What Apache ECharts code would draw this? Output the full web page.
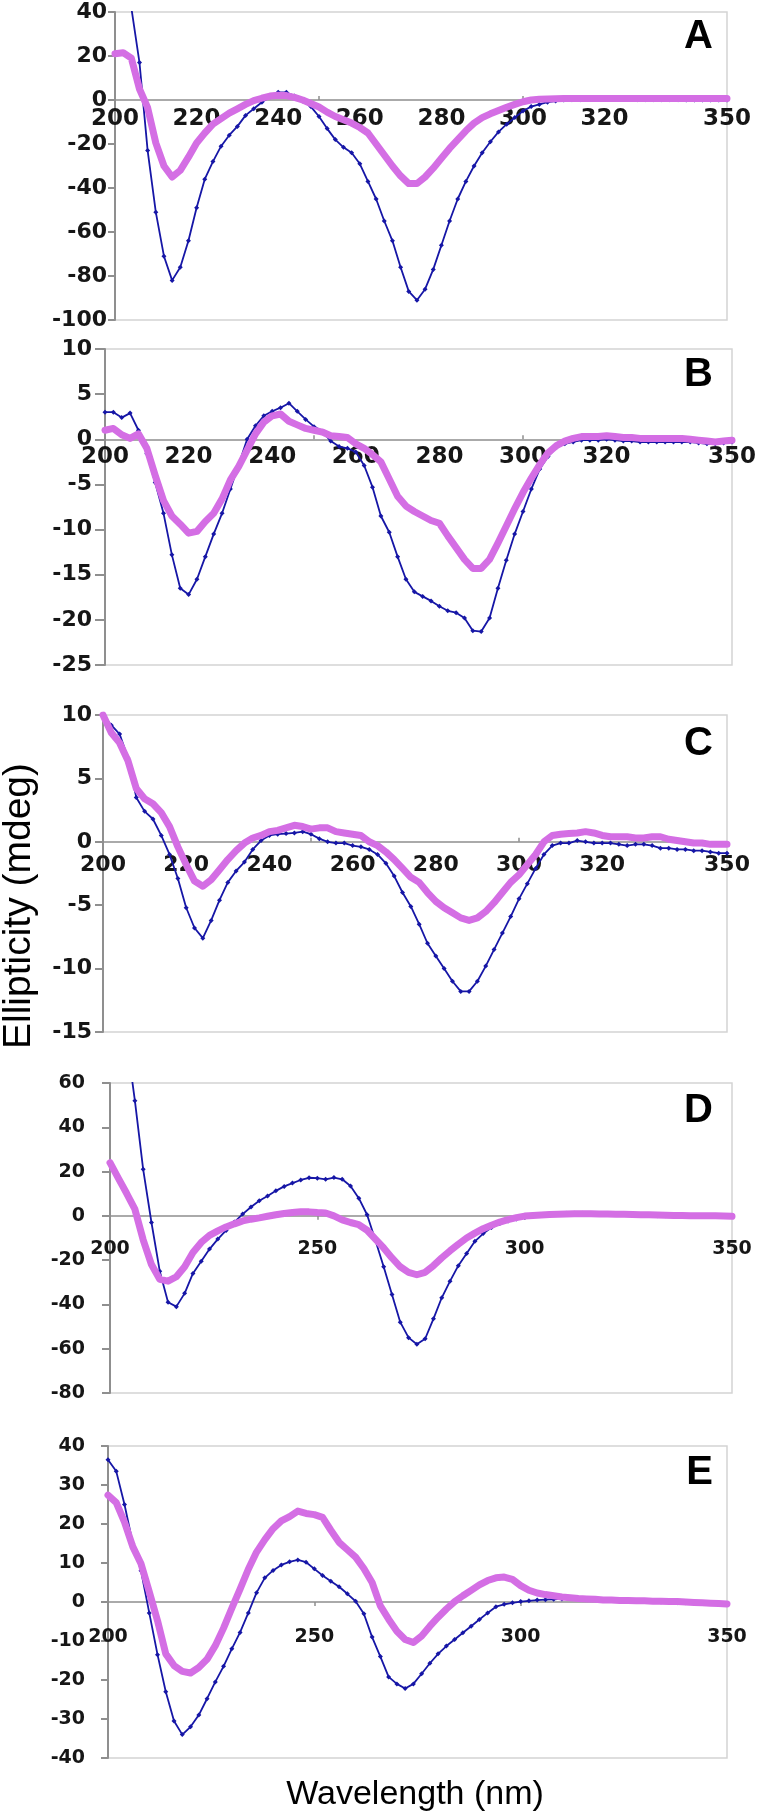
<!DOCTYPE html>
<html>
<head>
<meta charset="utf-8">
<script src="https://cdn.jsdelivr.net/npm/echarts@6/dist/echarts.min.js"></script>
<style>
html,body{margin:0;padding:0;background:#fff;}
#c{width:760px;height:1813px;}
</style>
</head>
<body>
<div id="c"></div>
<script>
// Wavelength (nm)
const wl = [200,202,204,206,208,210,212,214,216,218,
            220,222,224,226,228,230,232,234,236,238,
            240,242,244,246,248,250,252,254,256,258,
            260,262,264,266,268,270,272,274,276,278,
            280,282,284,286,288,290,292,294,296,298,
            300,302,304,306,308,310,312,314,316,318,
            320,322,324,326,328,330,332,334,336,338,
            340,342,344,346,348,350];

// Panel A
const blueA = [85,65,42,17,-23,-51,-71,-82,-76,-64,
  -49,-36,-28,-21,-16,-12,-7,-4,-1,1.5,
  3.5,3.5,1.8,-0.5,-3,-7.5,-13,-18,-21.5,-24,
  -29,-37,-45,-55,-64,-76,-87,-91,-86,-77,
  -66,-55,-45,-37,-30,-24,-19,-14.5,-11,-8,
  -5,-3,-2,-1,-0.5,0,0.1,0.1,0.2,0.2,
  0.2,0.2,0.2,0.2,0.1,0.1,0.1,0.1,0.1,0.1,
  0,0,0,0,0,0];
const pinkA = [21,21.5,19,5,-3.5,-19.5,-30,-35,-32,-26,
  -19.5,-15,-11,-8.5,-6,-4,-2,-0.3,0.8,1.8,
  2.2,2,1.2,0,-1.6,-3.2,-5.5,-7.5,-9,-10.5,
  -12.5,-15,-20,-25,-30,-34.5,-38,-38,-35,-31,
  -26.5,-22,-18,-14,-10.5,-8,-6.3,-4.8,-3.3,-2,
  -0.8,0,0.3,0.5,0.6,0.7,0.7,0.7,0.7,0.7,
  0.7,0.7,0.7,0.7,0.7,0.7,0.7,0.7,0.7,0.7,
  0.7,0.7,0.7,0.7,0.7,0.7];

// Panel B
const blueB = [3,3,2.4,2.9,1,-1.6,-4.8,-8.2,-12.8,-16.5,
  -17.2,-15.5,-13,-10.5,-8.2,-5.5,-2.8,0,1.5,2.6,
  3.1,3.5,4,3.1,2.2,1.4,0.9,-0.2,-0.8,-1,
  -1.4,-2.9,-5.3,-8.5,-10.3,-13,-15.5,-16.9,-17.4,-17.9,
  -18.5,-19,-19.2,-19.8,-21.2,-21.3,-19.8,-16.5,-13.4,-10.5,
  -8,-5.5,-3.3,-1.9,-0.9,-0.5,-0.3,-0.1,-0.1,-0.1,
  0,-0.1,-0.2,-0.2,-0.3,-0.3,-0.3,-0.3,-0.3,-0.3,
  -0.3,-0.4,-0.5,-0.5,-0.4,-0.3];
const pinkB = [1,1.2,0.5,0.1,0.6,-1,-4,-6.8,-8.5,-9.4,
  -10.4,-10.2,-9.1,-8.2,-6.6,-4.5,-3,-1.2,0.6,1.9,
  2.6,2.8,2,1.6,1.2,1,0.8,0.4,0.3,0.2,
  -0.5,-1,-1.7,-2.5,-4.4,-6.3,-7.4,-8,-8.5,-9,
  -9.3,-10.7,-12,-13.3,-14.3,-14.3,-13.3,-11.5,-9.6,-7.7,
  -5.9,-4.3,-2.8,-1.5,-0.7,-0.2,0.1,0.3,0.3,0.3,
  0.4,0.3,0.2,0.2,0.1,0.1,0.1,0.1,0.1,0.1,
  0,-0.1,-0.2,-0.3,-0.2,-0.1];

// Panel C
const blueC = [10,9.2,8.5,6.6,3.5,2.4,1.8,0.5,-1,-2.9,
  -5.2,-6.8,-7.6,-6.2,-4.6,-3.2,-2.3,-1.6,-0.6,0.1,
  0.5,0.6,0.65,0.7,0.8,0.6,0.25,0,-0.1,-0.1,
  -0.3,-0.4,-0.6,-1,-1.7,-2.7,-4,-5.1,-6.5,-8,
  -9,-10,-11,-11.8,-11.8,-11,-9.8,-8.5,-7.2,-5.9,
  -4.5,-3.3,-2.1,-1,-0.3,-0.1,-0.1,0.1,0,-0.1,
  -0.1,-0.1,-0.2,-0.3,-0.2,-0.2,-0.3,-0.5,-0.5,-0.6,
  -0.6,-0.7,-0.7,-0.8,-0.9,-0.9];
const pinkC = [10,8.6,7.8,6.4,4.2,3.4,3,2.3,1.2,-0.4,
  -1.8,-3.1,-3.5,-3,-2.2,-1.4,-0.7,-0.1,0.3,0.5,
  0.8,0.9,1.1,1.3,1.2,1,1.1,1.1,0.8,0.7,
  0.6,0.5,0,-0.3,-0.8,-1.4,-2.1,-2.8,-3.2,-4,
  -4.7,-5.2,-5.6,-6,-6.2,-6,-5.5,-4.8,-4,-3.2,
  -2.6,-1.8,-1,0,0.5,0.6,0.65,0.7,0.8,0.7,
  0.5,0.4,0.4,0.4,0.3,0.3,0.4,0.4,0.2,0.1,
  0,-0.1,-0.1,-0.2,-0.2,-0.2];

// Panel D
const blueD = [140,110,80,52,21,-3,-25,-39,-41,-35,
  -26,-20.5,-15,-10.5,-6.6,-2.8,0.8,4,6.8,9,
  11.3,13.3,14.8,16.2,17.2,17,16.5,17.3,16.5,13.5,
  8,0.5,-11,-23,-35.5,-48,-55,-58,-55.5,-46.5,
  -37,-29.5,-22.5,-17,-11.5,-8,-5.3,-3.5,-2.3,-1.4,
  -0.6,0,0.5,0.9,1.1,1.2,1.2,1.2,1.1,1,
  1,0.9,0.7,0.6,0.4,0.3,0.1,0,0,-0.1,
  -0.1,-0.2,-0.2,-0.2,-0.3,-0.3];
const pinkD = [24,17,10.2,3,-10.8,-22,-28.7,-29.5,-27.5,-23,
  -16.5,-12,-8.8,-6.8,-5,-3.6,-2.3,-1.5,-0.9,-0.2,
  0.5,1.1,1.5,1.9,1.8,1.5,1.3,0,-1.8,-3,
  -4,-6.5,-10.5,-14.5,-19,-23,-25.5,-26.6,-25.5,-22.5,
  -19,-15.8,-12.8,-10,-7.8,-5.8,-4.2,-2.8,-1.7,-0.8,
  -0.1,0.2,0.4,0.6,0.7,0.8,0.9,0.9,0.9,0.8,
  0.8,0.7,0.7,0.6,0.5,0.5,0.4,0.3,0.2,0.2,
  0.1,0.1,0,0,-0.1,-0.2];

// Panel E
const blueE = [36.5,33.5,25,15,8,-2.8,-13.5,-23,-30.5,-34,
  -32,-29,-24.8,-20.5,-16.5,-12,-7.8,-2.8,2.4,6.2,
  8.1,9.5,10.3,10.8,10.2,8.5,6.8,5.3,3.9,2.1,
  0.2,-3,-9,-14,-19.2,-21,-22.2,-21,-18.4,-15.7,
  -13.3,-11.3,-9.6,-7.9,-6.2,-4.5,-2.8,-1.2,-0.6,-0.2,
  0.1,0.3,0.5,0.6,0.7,0.8,0.9,0.9,0.8,0.7,
  0.6,0.5,0.4,0.3,0.2,0.1,0.1,0,0,-0.2,
  -0.2,-0.3,-0.3,-0.4,-0.5,-0.5];
const pinkE = [27.4,25.5,20.5,14.2,9.8,2.6,-4.8,-13.3,-16.3,-17.8,
  -18.2,-16.8,-14.7,-11.2,-6.7,-1.6,3.3,8.4,12.8,16,
  18.8,20.8,21.9,23.3,22.7,22.4,21.7,18.4,15.3,13.4,
  11.5,8.6,5,-1,-4.4,-7.5,-9.6,-10.4,-8.7,-6.2,
  -3.9,-1.8,0.1,1.6,3,4.4,5.5,6.2,6.4,5.8,
  4.2,3,2.3,1.9,1.6,1.3,1.1,0.9,0.8,0.7,
  0.5,0.5,0.4,0.4,0.3,0.3,0.2,0.2,0.1,0.1,
  0,-0.1,-0.2,-0.3,-0.4,-0.5];

// Tick labels
const xLabelsABC = [200,220,240,260,280,300,320,350];
const xLabelsDE = [200,250,300,350];
const xTickMarks = [250,300];
const panelLetters = ['A','B','C','D','E'];
const yMin = [-100,-25,-15,-80,-40];
const yMax = [40,10,10,60,40];
const yStep = [20,5,5,20,10];

const BLUE = '#1616a6';
const PINK = '#d46ee4';
const FONT = 'Liberation Sans, Arial, Helvetica, sans-serif';
const TICKFONT = 'DejaVu Sans, Verdana, sans-serif';

const blues = [blueA, blueB, blueC, blueD, blueE];
const pinks = [pinkA, pinkB, pinkC, pinkD, pinkE];

// layout (pixels)
const layout = [
  {left:115, top:12,   width:612, height:308, xFont:23, xMargin:8,  yFont:22, yMargin:8,  tick:7,  xLabels:xLabelsABC, tickInside:true,  letterY:37},
  {left:105, top:349,  width:627, height:316, xFont:23, xMargin:6,  yFont:22, yMargin:13, tick:10, xLabels:xLabelsABC, tickInside:true,  letterY:375},
  {left:103, top:715,  width:624, height:317, xFont:22, xMargin:12, yFont:22, yMargin:11, tick:8,  xLabels:xLabelsABC, tickInside:true,  letterY:744},
  {left:110, top:1083, width:622, height:310, xFont:19, xMargin:24, yFont:19, yMargin:25, tick:8,  xLabels:xLabelsDE,  tickInside:false, letterY:1111},
  {left:108, top:1446, width:619, height:312, xFont:19, xMargin:26, yFont:19, yMargin:23, tick:7,  xLabels:xLabelsDE,  tickInside:false, letterY:1473}
];

function pairs(vals){ return wl.map((x,i)=>[x, vals[i]]); }

const grid = [], xAxis = [], yAxis = [], series = [], graphic = [];
layout.forEach((L, i) => {
  // distance from grid bottom up to the zero line, through the y scale
  const zeroOffset = -L.height * (0 - yMin[i]) / (yMax[i] - yMin[i]);
  grid.push({left:L.left, top:L.top, width:L.width, height:L.height,
    containLabel:false, outerBoundsMode:'none',
    show:true, borderColor:'#d4d4d4', borderWidth:1.5, backgroundColor:'transparent'});
  xAxis.push({
    gridIndex:i, type:'value', min:200, max:350, interval:10,
    position:'bottom', offset:zeroOffset,
    axisLine:{show:true, onZero:false, lineStyle:{color:'#8f8f8f', width:1.5}},
    axisTick:{show:true, customValues:xTickMarks, inside:L.tickInside, length:4, lineStyle:{color:'#8f8f8f', width:1.5}},
    axisLabel:{show:true, customValues:L.xLabels, margin:L.xMargin, fontSize:L.xFont, fontWeight:'bold',
      color:'#161616', fontFamily:TICKFONT},
    splitLine:{show:false}
  });
  yAxis.push({
    gridIndex:i, type:'value', min:yMin[i], max:yMax[i], interval:yStep[i],
    axisLine:{show:true, onZero:false, lineStyle:{color:'#8f8f8f', width:2}},
    axisTick:{show:true, length:L.tick, lineStyle:{color:'#8f8f8f', width:2}},
    axisLabel:{margin:L.yMargin, fontSize:L.yFont, fontWeight:'bold', color:'#161616', fontFamily:TICKFONT},
    splitLine:{show:false}
  });
  series.push({
    type:'line', xAxisIndex:i, yAxisIndex:i, data:pairs(blues[i]), clip:true,
    symbol:'diamond', symbolSize:5, showAllSymbol:true,
    lineStyle:{color:BLUE, width:1.8}, itemStyle:{color:BLUE},
    z:2, silent:true
  });
  series.push({
    type:'line', xAxisIndex:i, yAxisIndex:i, data:pairs(pinks[i]), clip:true,
    symbol:'none',
    lineStyle:{color:PINK, width:7, cap:'round', join:'round'},
    itemStyle:{color:PINK},
    z:3, silent:true
  });
  graphic.push({
    type:'text', x:713, y:L.letterY,
    style:{text:panelLetters[i], fill:'#000', font:'bold 40px ' + FONT, align:'right', verticalAlign:'middle'}
  });
});

graphic.push({
  type:'text', x:19, y:906, rotation:Math.PI/2,
  style:{text:'Ellipticity (mdeg)', fill:'#000', font:'39px ' + FONT, align:'center', verticalAlign:'middle'}
});
graphic.push({
  type:'text', x:415, y:1795,
  style:{text:'Wavelength (nm)', fill:'#000', font:'34px ' + FONT, align:'center', verticalAlign:'middle'}
});

const chart = echarts.init(document.getElementById('c'), null, {renderer:'canvas'});
chart.setOption({
  animation:false,
  backgroundColor:'#ffffff',
  grid, xAxis, yAxis, series, graphic
});
</script>
</body>
</html>
